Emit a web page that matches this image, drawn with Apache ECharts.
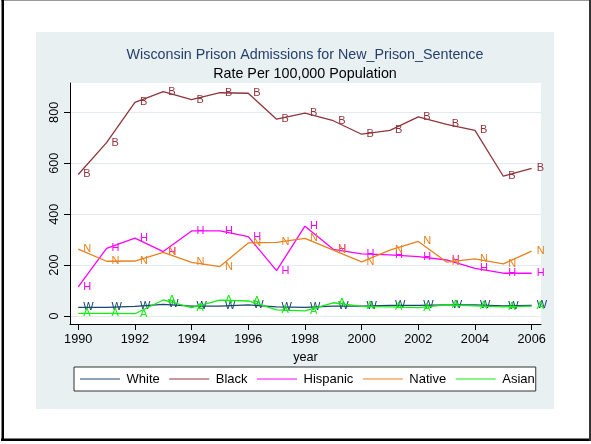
<!DOCTYPE html>
<html>
<head>
<meta charset="utf-8">
<script src="https://cdn.jsdelivr.net/npm/echarts@6/dist/echarts.min.js"></script>
<style>html,body{margin:0;padding:0;background:#fff;}#c{width:591px;height:444px;}</style>
</head>
<body>
<div id="c"></div>
<script>
const years = [1990,1991,1992,1993,1994,1995,1996,1997,1998,1999,2000,2001,2002,2003,2004,2005,2006];
const white    = [34,34,38,46,39,39,44,36,34,39,39,42,42,44,44,40,42];
const black    = [556,681,839,881,850,877,875,773,797,767,714,729,782,753,729,549,580];
const hispanic = [114,266,306,253,334,334,312,178,353,262,244,240,233,220,187,168,168];
const native   = [263,215,216,250,211,194,287,289,305,259,213,259,293,212,224,205,255];
const asian    = [10,10,9,63,33,62,59,24,20,52,38,36,33,44,40,36,39];
const xTicks = [1990,1992,1994,1996,1998,2000,2002,2004,2006];
const yTicks = [0,200,400,600,800];
const seriesNames = ['White','Black','Hispanic','Native','Asian'];
const seriesLetters = ['W','B','H','N','A'];
const seriesColors = ['#1a476f','#90353b','#ff00ff','#e8821e','#11ee11'];
const seriesValues = [white, black, hispanic, native, asian];
const titleText = 'Wisconsin Prison Admissions for New_Prison_Sentence';
const subtitleText = 'Rate Per 100,000 Population';

const FONT = '"Liberation Sans", Arial, sans-serif';
const LINE_ICON = 'path://M0,0 M0,6.4 L40,6.4 L40,7.6 L0,7.6 Z M40,14';
const chart = echarts.init(document.getElementById('c'), null, {renderer: 'canvas'});

const series = seriesNames.map((name, i) => ({
  name: name,
  type: 'line',
  data: years.map((y, k) => [y, seriesValues[i][k]]),
  symbol: 'circle',
  symbolSize: 0,
  showSymbol: true,
  silent: true,
  color: seriesColors[i],
  lineStyle: {color: seriesColors[i], width: 1.3},
  itemStyle: {color: seriesColors[i]},
  label: {
    show: true,
    position: 'right',
    distance: 5,
    formatter: seriesLetters[i],
    color: seriesColors[i],
    fontSize: 11,
    fontFamily: FONT
  },
  emphasis: {disabled: true},
  z: 2 + i
}));

chart.setOption({
  animation: false,
  backgroundColor: '#ffffff',
  graphic: [
    {type: 'rect', shape: {x: 36, y: 32, width: 518, height: 377}, style: {fill: '#e9f0f2'}, z: -10, silent: true},
    {type: 'line', shape: {x1: 1, y1: 0.5, x2: 591, y2: 0.5}, style: {stroke: '#999999', lineWidth: 1}, silent: true},
    {type: 'line', shape: {x1: 2.75, y1: 0, x2: 2.75, y2: 441}, style: {stroke: '#000000', lineWidth: 2.5}, silent: true},
    {type: 'line', shape: {x1: 1, y1: 439.75, x2: 591, y2: 439.75}, style: {stroke: '#000000', lineWidth: 2.5}, silent: true},
    {type: 'line', shape: {x1: 590, y1: 0, x2: 590, y2: 441}, style: {stroke: '#333333', lineWidth: 2}, silent: true}
  ],
  title: [
    {text: titleText, left: 305, textAlign: 'center', top: 47, padding: 0,
     textStyle: {color: '#26406b', fontSize: 14.3, fontWeight: 'normal', fontFamily: FONT, lineHeight: 16}},
    {text: subtitleText, left: 305, textAlign: 'center', top: 66, padding: 0,
     textStyle: {color: '#000000', fontSize: 14.3, fontWeight: 'normal', fontFamily: FONT, lineHeight: 16}}
  ],
  legend: {
    data: seriesNames.map(n => ({name: n, icon: LINE_ICON})),
    left: 74,
    top: 367,
    orient: 'horizontal',
    padding: [5, 1, 5, 6],
    itemWidth: 40,
    itemHeight: 14,
    itemGap: 9.5,
    backgroundColor: '#ffffff',
    borderColor: '#333333',
    borderWidth: 1,
    borderRadius: 0,
    selectedMode: false,
    textStyle: {fontSize: 13, color: '#000', fontFamily: FONT, lineHeight: 14, padding: [0, 0, 0, 1.5]}
  },
  grid: {
    left: 70, top: 83, right: 50, bottom: 120,
    show: true, backgroundColor: '#ffffff', borderWidth: 0,
    containLabel: false
  },
  xAxis: {
    type: 'value',
    min: 1989.71,
    max: 2006.33,
    name: 'year',
    nameLocation: 'middle',
    nameGap: 19,
    nameTextStyle: {fontSize: 12.7, color: '#000', fontFamily: FONT},
    axisLine: {show: true, onZero: false, lineStyle: {color: '#000', width: 1}},
    axisTick: {show: true, length: 6, customValues: xTicks, lineStyle: {color: '#000'}},
    axisLabel: {customValues: xTicks, fontSize: 12.7, color: '#000', fontFamily: FONT, margin: 9, formatter: v => String(v)},
    splitLine: {show: false}
  },
  yAxis: {
    type: 'value',
    min: -31.4,
    max: 915.2,
    axisLine: {show: true, onZero: false, lineStyle: {color: '#000', width: 1}},
    axisTick: {show: true, length: 6, customValues: yTicks, lineStyle: {color: '#000'}},
    axisLabel: {customValues: yTicks, rotate: 90, fontSize: 12.7, color: '#000', fontFamily: FONT, margin: 9, formatter: v => String(v)},
    splitLine: {show: true, lineStyle: {color: '#e2ebef', width: 1}}
  },
  series: series
});
</script>
</body>
</html>
